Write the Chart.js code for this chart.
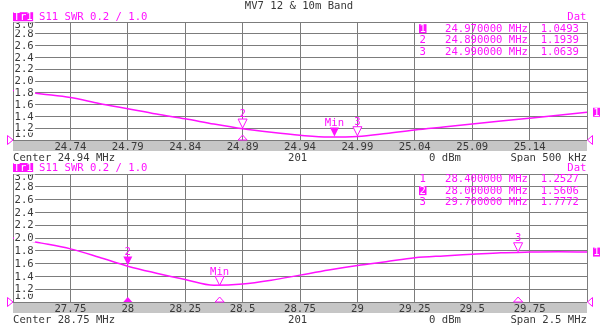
<!DOCTYPE html>
<html>
<head>
<meta charset="utf-8">
<script src="https://cdn.jsdelivr.net/npm/chart.js@4.4.1/dist/chart.umd.min.js"></script>
<style>
html,body{margin:0;padding:0;background:#fff;}
#wrap{position:relative;width:600px;height:325px;overflow:hidden;background:#fff;}
#c1{position:absolute;left:0;top:0;}
#c2{position:absolute;left:0;top:162px;}
</style>
</head>
<body>
<div id="wrap">
<canvas id="c1" width="600" height="162"></canvas>
<canvas id="c2" width="600" height="163"></canvas>
</div>
<script>
// ---------- data ----------
const TITLE = 'MV7 12 & 10m Band';
const HEADER = 'S11 SWR 0.2 / 1.0';
const yTickValues = [1.0, 1.2, 1.4, 1.6, 1.8, 2.0, 2.2, 2.4, 2.6, 2.8, 3.0];
const yTickLabels = ['1.0', '1.2', '1.4', '1.6', '1.8', '2.0', '2.2', '2.4', '2.6', '2.8', '3.0'];

// Panel 1 (12 m band)
const p1Freq = [24.69, 24.715, 24.74, 24.765, 24.79, 24.815, 24.84, 24.865, 24.89, 24.915, 24.94,
                24.965, 24.99, 25.015, 25.04, 25.065, 25.09, 25.115, 25.14, 25.165, 25.19];
const p1Swr  = [1.84, 1.78, 1.72, 1.62, 1.53, 1.44, 1.36, 1.27, 1.19, 1.13, 1.08,
                1.05, 1.06, 1.11, 1.17, 1.22, 1.27, 1.32, 1.37, 1.42, 1.47];
const p1XTicks  = [24.69, 24.74, 24.79, 24.84, 24.89, 24.94, 24.99, 25.04, 25.09, 25.14, 25.19];
const p1XLabels = ['', '24.74', '24.79', '24.84', '24.89', '24.94', '24.99', '25.04', '25.09', '25.14', ''];
const p1MarkerFreq = [24.97, 24.89, 24.99];
const p1MarkerSwr  = [1.0493, 1.1939, 1.0639];
const p1MarkerName = ['Min', '2', '3'];
const p1MarkerId   = ['1', '2', '3'];
const p1MarkerFreqText = ['24.970000 MHz', '24.890000 MHz', '24.990000 MHz'];
const p1MarkerValText  = ['1.0493', '1.1939', '1.0639'];
const p1Footer = ['Center 24.94 MHz', '201', '0 dBm', 'Span 500 kHz'];

// Panel 2 (10 m band)
const p2Freq = [27.5, 27.625, 27.75, 27.875, 28.0, 28.125, 28.25, 28.375, 28.5, 28.625, 28.75,
                28.875, 29.0, 29.125, 29.25, 29.375, 29.5, 29.625, 29.75, 29.875, 30.0];
const p2Swr  = [2.00, 1.92, 1.83, 1.70, 1.56, 1.45, 1.35, 1.26, 1.28, 1.34, 1.42,
                1.50, 1.57, 1.63, 1.69, 1.72, 1.745, 1.77, 1.78, 1.785, 1.78];
const p2XTicks  = [27.5, 27.75, 28.0, 28.25, 28.5, 28.75, 29.0, 29.25, 29.5, 29.75, 30.0];
const p2XLabels = ['', '27.75', '28', '28.25', '28.5', '28.75', '29', '29.25', '29.5', '29.75', ''];
const p2MarkerFreq = [28.4, 28.0, 29.7];
const p2MarkerSwr  = [1.2527, 1.5606, 1.7772];
const p2MarkerName = ['Min', '2', '3'];
const p2MarkerId   = ['1', '2', '3'];
const p2MarkerFreqText = ['28.400000 MHz', '28.000000 MHz', '29.700000 MHz'];
const p2MarkerValText  = ['1.2527', '1.5606', '1.7772'];
const p2Footer = ['Center 28.75 MHz', '201', '0 dBm', 'Span 2.5 MHz'];

// ---------- style ----------
const FONT = '"DejaVu Sans Mono", monospace';
const FS = 10.6;
const MAG = '#ff11ff';
const GRID = '#7c7c7c';
const BAND = '#c6c6c6';
const TXT = '#383838';

const panels = [
  { id: 1, canvas: 'c1', freq: p1Freq, swr: p1Swr, xTicks: p1XTicks, xLabels: p1XLabels,
    mFreq: p1MarkerFreq, mSwr: p1MarkerSwr, mName: p1MarkerName, mId: p1MarkerId,
    mFreqText: p1MarkerFreqText, mValText: p1MarkerValText, footer: p1Footer,
    active: 0, stim: [false, true, false], padTop: 22, padBottom: 11,
    title: true, headerY: 16.7, rowsY: [28.7, 40.0, 51.3] },
  { id: 2, canvas: 'c2', freq: p2Freq, swr: p2Swr, xTicks: p2XTicks, xLabels: p2XLabels,
    mFreq: p2MarkerFreq, mSwr: p2MarkerSwr, mName: p2MarkerName, mId: p2MarkerId,
    mFreqText: p2MarkerFreqText, mValText: p2MarkerValText, footer: p2Footer,
    active: 1, stim: [true, true, true], padTop: 12, padBottom: 12,
    title: false, headerY: 5.5, rowsY: [16.4, 28.6, 40.2] }
];

function font() { return FS + 'px ' + FONT; }

function triDown(ctx, x, yTip, filled) {
  ctx.beginPath();
  ctx.moveTo(x - 4.5, yTip - 9);
  ctx.lineTo(x + 4.5, yTip - 9);
  ctx.lineTo(x, yTip);
  ctx.closePath();
  if (filled) { ctx.fillStyle = MAG; ctx.fill(); }
  else { ctx.fillStyle = '#fff'; ctx.fill(); ctx.strokeStyle = MAG; ctx.lineWidth = 1; ctx.stroke(); }
}
function triUp(ctx, x, yBase, filled) {
  ctx.beginPath();
  ctx.moveTo(x - 4.5, yBase);
  ctx.lineTo(x + 4.5, yBase);
  ctx.lineTo(x, yBase - 5);
  ctx.closePath();
  if (filled) { ctx.fillStyle = MAG; ctx.fill(); }
  else { ctx.strokeStyle = MAG; ctx.lineWidth = 1; ctx.stroke(); }
}

function panelPlugin(P) {
  return {
    id: 'panel' + P.id,
    beforeDraw(chart) {
      const ctx = chart.ctx, a = chart.chartArea;
      ctx.save();
      ctx.fillStyle = BAND;
      ctx.fillRect(a.left, a.bottom, a.right - a.left, 11);
      ctx.restore();
    },
    afterDatasetsDraw(chart) {
      const ctx = chart.ctx, a = chart.chartArea;
      const xs = chart.scales.x, ys = chart.scales.y;
      ctx.save();
      // y tick labels inside the plot, with white backdrop
      ctx.beginPath();
      ctx.rect(a.left, a.top + 0.5, a.right - a.left, a.bottom - a.top);
      ctx.clip();
      ctx.font = font();
      ctx.textBaseline = 'middle';
      ctx.textAlign = 'left';
      yTickValues.forEach((v, i) => {
        let y = ys.getPixelForValue(v);
        if (i === 0) y -= 6.5;
        if (i === yTickValues.length - 1) y += 3;
        const w = ctx.measureText(yTickLabels[i]).width;
        ctx.fillStyle = '#fff';
        ctx.fillRect(a.left + 1, y - 4.5, w + 2, 9);
        ctx.fillStyle = TXT;
        ctx.fillText(yTickLabels[i], a.left + 1.5, y + 0.5);
      });
      ctx.restore();

      // markers
      ctx.save();
      ctx.font = font();
      ctx.textAlign = 'center';
      ctx.textBaseline = 'middle';
      P.mFreq.forEach((f, i) => {
        const x = xs.getPixelForValue(f);
        const y = ys.getPixelForValue(P.mSwr[i]);
        const filled = (i === P.active);
        triDown(ctx, x, y - 0.5, filled);
        ctx.fillStyle = MAG;
        ctx.fillText(P.mName[i], x, y - 14);
        if (P.stim[i]) triUp(ctx, x, a.bottom, filled);
      });
      ctx.restore();
    },
    afterDraw(chart) {
      const ctx = chart.ctx, a = chart.chartArea;
      const ys = chart.scales.y;
      ctx.save();
      ctx.font = font();
      ctx.textBaseline = 'middle';
      // title
      if (P.title) {
        ctx.fillStyle = TXT;
        ctx.textAlign = 'center';
        ctx.fillText(TITLE, 299, 6.7);
      }
      // header: Tr1 box + trace description
      ctx.textAlign = 'left';
      const trW = ctx.measureText('Tr1').width;
      ctx.fillStyle = MAG;
      ctx.fillRect(a.left, P.headerY - 4.5, trW + 1, 9);
      ctx.fillStyle = '#fff';
      ctx.fillText('Tr1', a.left + 0.5, P.headerY + 0.5);
      ctx.fillStyle = MAG;
      ctx.fillText(HEADER, a.left + ctx.measureText('Tr1 ').width + 0.5, P.headerY + 0.5);
      ctx.textAlign = 'right';
      ctx.fillText('Dat', 586.5, P.headerY + 0.5);
      // marker table
      P.mId.forEach((id, i) => {
        const y = P.rowsY[i];
        ctx.textAlign = 'center';
        if (i === P.active) {
          ctx.fillStyle = MAG;
          ctx.fillRect(419, y - 4.5, 7.5, 9);
          ctx.fillStyle = '#fff';
        } else {
          ctx.fillStyle = MAG;
        }
        ctx.fillText(id, 422.7, y + 0.5);
        ctx.fillStyle = MAG;
        ctx.textAlign = 'right';
        ctx.fillText(P.mFreqText[i], 528, y + 0.5);
        ctx.fillText(P.mValText[i], 579, y + 0.5);
      });
      // footer
      const fy = a.bottom + 18;
      ctx.fillStyle = TXT;
      ctx.textAlign = 'left';
      ctx.fillText(P.footer[0], a.left, fy);
      ctx.fillText(P.footer[1], 288, fy);
      ctx.fillText(P.footer[2], 429, fy);
      ctx.textAlign = 'right';
      ctx.fillText(P.footer[3], 587, fy);
      // trace end indicator
      const yEnd = ys.getPixelForValue(P.swr[P.swr.length - 1]);
      ctx.fillStyle = MAG;
      ctx.fillRect(593, yEnd - 4.5, 7, 9);
      ctx.fillStyle = '#fff';
      ctx.textAlign = 'center';
      ctx.fillText('1', 596.5, yEnd + 0.5);
      // reference level arrows
      const yRef = ys.getPixelForValue(1.0);
      ctx.strokeStyle = MAG;
      ctx.lineWidth = 1;
      ctx.beginPath();
      ctx.moveTo(a.left, yRef);
      ctx.lineTo(a.left - 5.5, yRef - 4.5);
      ctx.lineTo(a.left - 5.5, yRef + 4.5);
      ctx.closePath();
      ctx.stroke();
      ctx.beginPath();
      ctx.moveTo(a.right + 0.5, yRef);
      ctx.lineTo(a.right + 5.5, yRef - 4.5);
      ctx.lineTo(a.right + 5.5, yRef + 4.5);
      ctx.closePath();
      ctx.stroke();
      ctx.restore();
    }
  };
}

function makeChart(P) {
  return new Chart(document.getElementById(P.canvas), {
    type: 'line',
    data: {
      datasets: [{
        data: P.freq.map((f, i) => ({ x: f, y: P.swr[i] })),
        borderColor: MAG,
        borderWidth: 1.5,
        pointRadius: 0,
        fill: false,
        cubicInterpolationMode: 'monotone'
      }]
    },
    options: {
      responsive: false,
      animation: false,
      devicePixelRatio: 1,
      layout: { padding: { left: 13, right: 13, top: P.padTop, bottom: P.padBottom } },
      plugins: { legend: { display: false }, tooltip: { enabled: false }, title: { display: false } },
      scales: {
        x: {
          type: 'linear',
          min: P.xTicks[0],
          max: P.xTicks[P.xTicks.length - 1],
          afterBuildTicks: s => { s.ticks = P.xTicks.map(v => ({ value: v })); },
          afterFit: s => { s.height = 11; },
          grid: { color: GRID, lineWidth: 1, drawTicks: false },
          border: { display: false },
          ticks: {
            autoSkip: false, maxRotation: 0, minRotation: 0, padding: 1,
            color: TXT, font: { family: FONT, size: FS },
            callback: (v, i) => P.xLabels[i]
          }
        },
        y: {
          type: 'linear',
          min: 1, max: 3,
          afterBuildTicks: s => { s.ticks = yTickValues.map(v => ({ value: v })); },
          afterFit: s => { s.width = 0; },
          grid: { color: GRID, lineWidth: 1, drawTicks: false },
          border: { display: false },
          ticks: { display: false }
        }
      }
    },
    plugins: [panelPlugin(P)]
  });
}

panels.forEach(makeChart);
</script>
</body>
</html>
